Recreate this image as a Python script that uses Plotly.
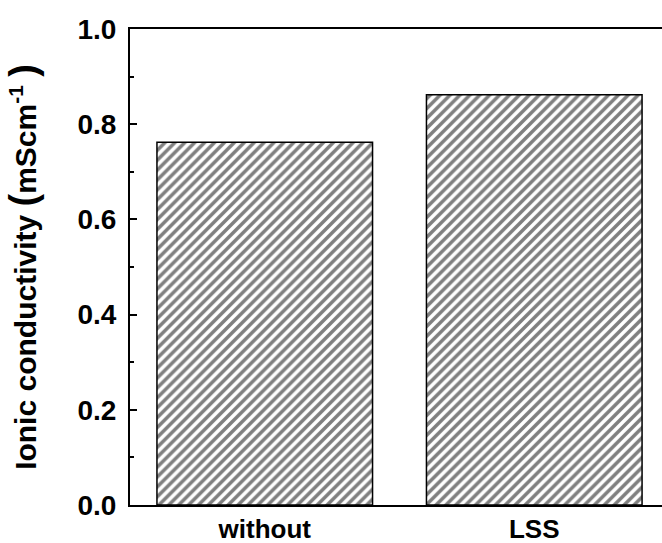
import plotly.graph_objects as go

categories = ["without", "LSS"]
values = [0.762, 0.862]
y_ticks = [0.0, 0.2, 0.4, 0.6, 0.8, 1.0]

fig = go.Figure(go.Bar(
    x=categories, y=values, width=0.80,
    marker=dict(color="white", line=dict(color="black", width=1.5),
                pattern=dict(shape="/", fgcolor="black", bgcolor="white", size=7, solidity=0.5)),
))

fam = "Liberation Sans, Arial"
tickfont = dict(family=fam, size=28, color="black", weight="bold")
xfont = dict(family=fam, size=26, color="black", weight="bold")
titlefont = dict(family=fam, size=30, color="black", weight="bold")
fig.update_layout(
    width=662, height=543, margin=dict(l=130, r=0, t=29, b=38, autoexpand=False),
    plot_bgcolor="white", paper_bgcolor="white", showlegend=False,
    xaxis=dict(range=[-0.5, 1.474], showline=True, linecolor="black", linewidth=2,
               mirror=True, ticks="", tickfont=xfont, showgrid=False, ticklabelstandoff=0,
               automargin=False),
    yaxis=dict(range=[0, 1], tickvals=y_ticks, tickformat=".1f", showline=True,
               linecolor="black", linewidth=2, ticks="inside", ticklen=7, tickwidth=1.5,
               tickcolor="black", showgrid=False, zeroline=False, tickfont=tickfont,
               ticklabelstandoff=6, automargin=False,
               minor=dict(dtick=0.1, ticks="inside", ticklen=4, tickwidth=1.5, tickcolor="black", showgrid=False),
               title=dict(text="Ionic conductivity <span style='font-size:38px'>(</span>mScm<sup>-1</sup> <span style='font-size:38px'>)</span>",
                          font=titlefont, standoff=32)),
)
fig.write_html("out.html")
